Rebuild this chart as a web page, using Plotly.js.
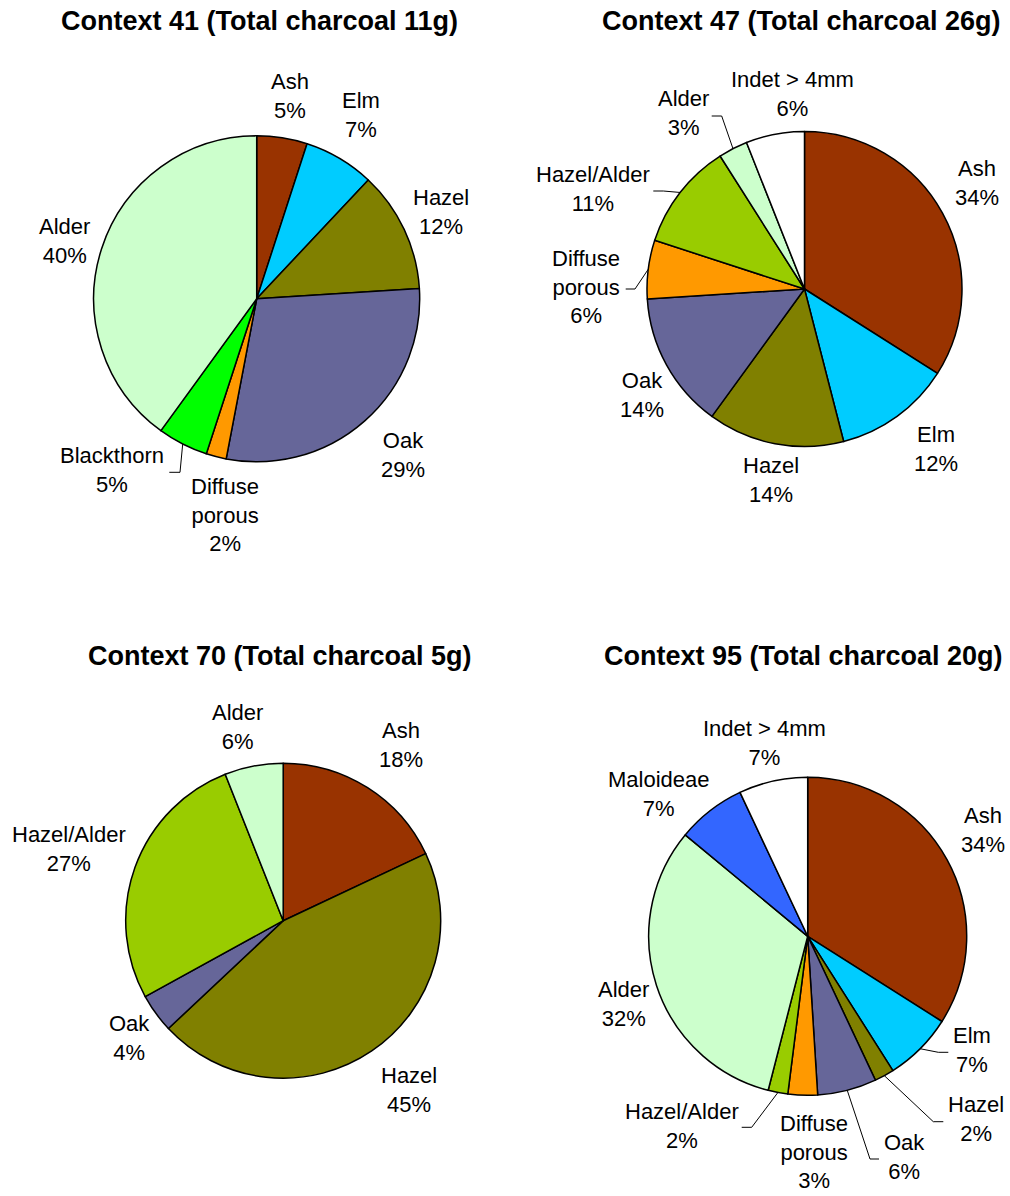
<!DOCTYPE html>
<html>
<head>
<meta charset="utf-8">
<script src="https://cdn.plot.ly/plotly-3.0.1.min.js"></script>
<style>html,body{margin:0;padding:0;background:#fff;}#chart{width:1010px;height:1196px;}</style>
</head>
<body>
<div id="chart"></div>
<script>
// ---- data ----
const c41Labels = ['Ash','Elm','Hazel','Oak','Diffuse porous','Blackthorn','Alder'];
const c41Values = [5,7,12,29,2,5,40];
const c47Labels = ['Ash','Elm','Hazel','Oak','Diffuse porous','Hazel/Alder','Alder','Indet > 4mm'];
const c47Values = [34,12,14,14,6,11,3,6];
const c70Labels = ['Ash','Hazel','Oak','Hazel/Alder','Alder'];
const c70Values = [18,45,4,27,6];
const c95Labels = ['Ash','Elm','Hazel','Oak','Diffuse porous','Hazel/Alder','Alder','Maloideae','Indet > 4mm'];
const c95Values = [34,7,2,6,3,2,32,7,7];
const chartTitles = ['Context 41 (Total charcoal 11g)','Context 47 (Total charcoal 26g)','Context 70 (Total charcoal 5g)','Context 95 (Total charcoal 20g)'];

// ---- styles ----
const colors = {
  'Ash':'#993300','Elm':'#00CCFF','Hazel':'#808000','Oak':'#666699',
  'Diffuse porous':'#FF9900','Blackthorn':'#00FF00','Alder':'#CCFFCC',
  'Hazel/Alder':'#99CC00','Indet > 4mm':'#FFFFFF','Maloideae':'#3366FF'
};
const W = 1010, H = 1196;
const FONT = 'Liberation Sans, Arial, sans-serif';
const px = x => x / W;
const py = y => 1 - y / H;

// layout geometry (pixels): pie centre, radius, title position, label positions, leader lines
const charts = [
  {labels:c41Labels, values:c41Values, cx:256.7, cy:298.8, r:163, title:[259.5,21],
   pos:{'Ash':[290,96],'Elm':[361,115],'Hazel':[441,212],'Oak':[403,455],'Diffuse porous':[225,515],'Blackthorn':[112,470],'Alder':[64.5,241]},
   leaders:{'Blackthorn':[[180,472.3],[169.3,472.3]]}},
  {labels:c47Labels, values:c47Values, cx:804.5, cy:289, r:157.5, title:[801.5,21],
   pos:{'Ash':[977,183],'Elm':[936,449],'Hazel':[771,480],'Oak':[642,395.5],'Diffuse porous':[586,287],'Hazel/Alder':[593,189],'Alder':[683,113],'Indet > 4mm':[792.5,94.5]},
   leaders:{'Alder':[[721.7,116],[711.7,116]],'Hazel/Alder':[[663.3,191],[653.3,191]],'Diffuse porous':[[635,289],[625.7,289]]}},
  {labels:c70Labels, values:c70Values, cx:283.2, cy:920.7, r:157.5, title:[280,656],
   pos:{'Ash':[401,745],'Hazel':[409,1090],'Oak':[129,1038],'Hazel/Alder':[69,849],'Alder':[237,727]},
   leaders:{}},
  {labels:c95Labels, values:c95Values, cx:807.7, cy:936.3, r:159, title:[803.5,656],
   pos:{'Ash':[983,830],'Elm':[972,1050],'Hazel':[976,1119],'Oak':[904,1157],'Diffuse porous':[814,1152],'Hazel/Alder':[682,1126],'Alder':[623,1004],'Maloideae':[659,794],'Indet > 4mm':[764,743]},
   leaders:{'Elm':[[938.3,1052.3],[948.3,1052.3]],'Hazel':[[933.3,1121.7],[943.3,1121.7]],'Oak':[[870,1159],[879,1159]],'Hazel/Alder':[[751.7,1127.3],[741.7,1127.3]]}}
];

const traces = [];
const annotations = [];
const shapes = [];

charts.forEach((c, i) => {
  traces.push({
    type:'pie',
    labels:c.labels,
    values:c.values,
    sort:false,
    direction:'clockwise',
    rotation:0,
    textinfo:'none',
    hoverinfo:'label+percent',
    marker:{colors:c.labels.map(l => colors[l]), line:{color:'#000000', width:1.5}},
    domain:{x:[px(c.cx - c.r), px(c.cx + c.r)], y:[py(c.cy + c.r), py(c.cy - c.r)]},
    showlegend:false
  });
  annotations.push({
    text:'<b>' + chartTitles[i] + '</b>', xref:'paper', yref:'paper',
    x:px(c.title[0]), y:py(c.title[1]), xanchor:'center', yanchor:'middle',
    showarrow:false, font:{family:FONT, size:27, color:'#000000'}
  });
  const total = c.values.reduce((a, b) => a + b, 0);
  let cum = 0;
  c.labels.forEach((lab, k) => {
    const v = c.values[k];
    const mid = (cum + v / 2) / total;
    cum += v;
    const pct = Math.round(v / total * 100) + '%';
    const name = lab === 'Diffuse porous' ? 'Diffuse<br>porous' : lab;
    const p = c.pos[lab];
    annotations.push({
      text:name + '<br>' + pct, xref:'paper', yref:'paper',
      x:px(p[0]), y:py(p[1]), xanchor:'center', yanchor:'middle', align:'center',
      showarrow:false, font:{family:FONT, size:22, color:'#000000'}
    });
    const ld = c.leaders[lab];
    if (ld) {
      const ang = mid * 2 * Math.PI;
      const ax = c.cx + c.r * Math.sin(ang);
      const ay = c.cy - c.r * Math.cos(ang);
      const pts = [[ax, ay]].concat(ld);
      for (let s = 0; s < pts.length - 1; s++) {
        shapes.push({type:'line', xref:'paper', yref:'paper',
          x0:px(pts[s][0]), y0:py(pts[s][1]), x1:px(pts[s+1][0]), y1:py(pts[s+1][1]),
          line:{color:'#000000', width:1}});
      }
    }
  });
});

const layout = {
  width:W, height:H,
  margin:{l:0, r:0, t:0, b:0},
  paper_bgcolor:'#ffffff',
  font:{family:FONT, color:'#000000'},
  annotations:annotations,
  shapes:shapes,
  showlegend:false
};

Plotly.newPlot('chart', traces, layout, {displayModeBar:false, staticPlot:true});
</script>
</body>
</html>
